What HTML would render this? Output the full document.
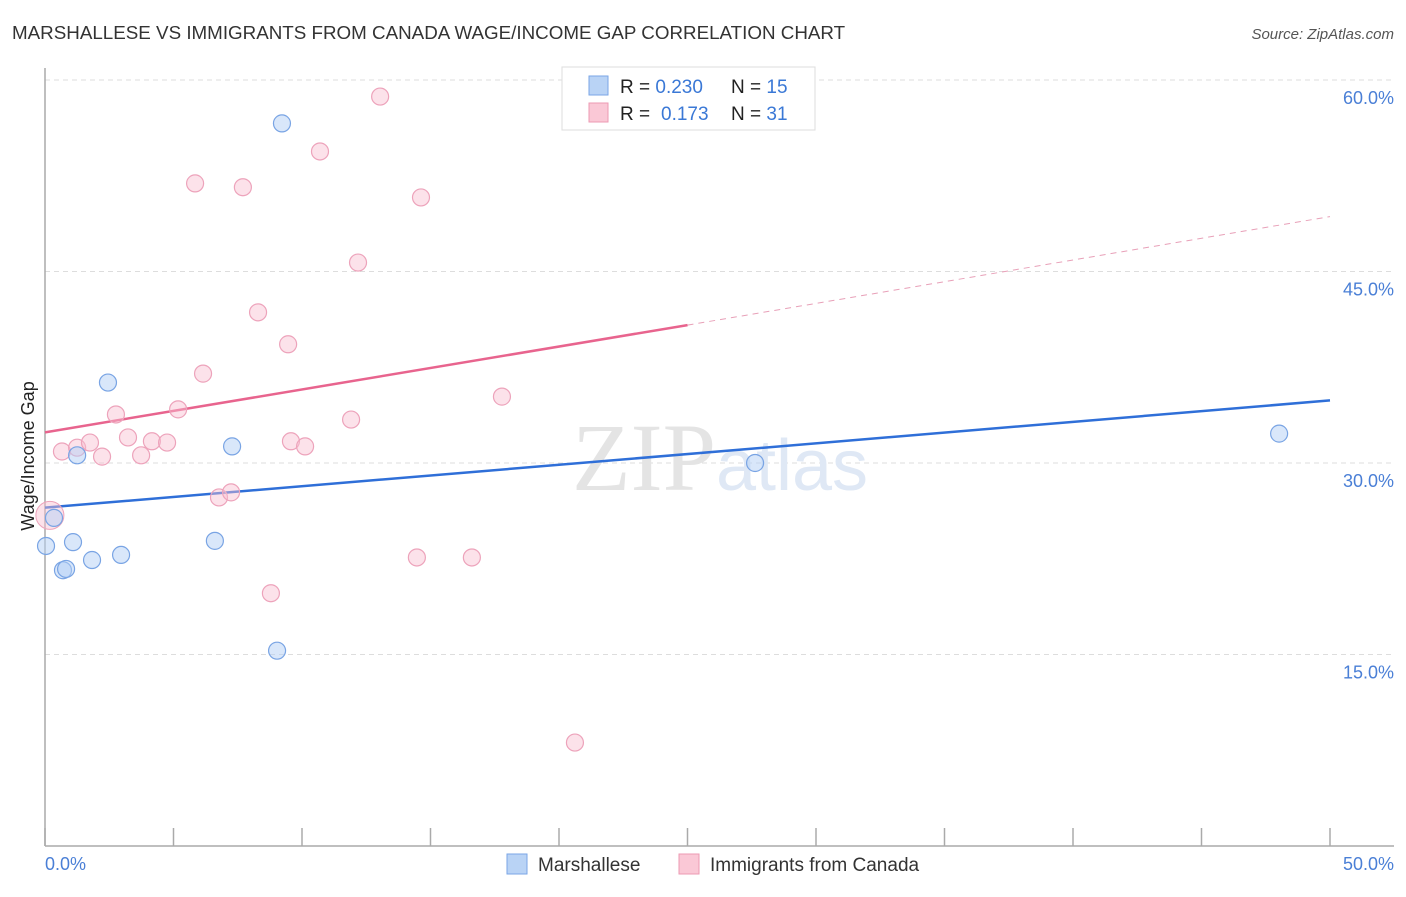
<!DOCTYPE html>
<html><head><meta charset="utf-8"><style>
body{margin:0;background:#fff;font-family:"Liberation Sans",sans-serif}
</style></head><body>
<svg width="1406" height="892" xmlns="http://www.w3.org/2000/svg">
<text x="12" y="39" font-size="18.8" fill="#333">MARSHALLESE VS IMMIGRANTS FROM CANADA WAGE/INCOME GAP CORRELATION CHART</text>
<text x="1394" y="39" font-size="15" fill="#555" text-anchor="end" font-style="italic">Source: ZipAtlas.com</text>
<g id="grid"></g>
<text x="720" y="490" font-size="96" fill="#e4e4e4" text-anchor="middle" font-family="Liberation Serif">ZIP<tspan fill="#dfe8f5" font-family="Liberation Sans" font-size="72">atlas</tspan></text>
<line x1="45" y1="68" x2="45" y2="846" stroke="#aaa" stroke-width="1.5"/>
<line x1="45" y1="846" x2="1394" y2="846" stroke="#aaa" stroke-width="1.5"/>
<g id="ticks"></g>
<g id="lines"></g>
<g id="pts"></g>
<text transform="translate(34,456) rotate(-90)" font-size="18" fill="#222" text-anchor="middle">Wage/Income Gap</text>
<text x="45" y="870" font-size="18" fill="#4a7fd6">0.0%</text>
<text x="1394" y="870" font-size="18" fill="#4a7fd6" text-anchor="end">50.0%</text>
<g>
<rect x="562" y="67" width="253" height="63" fill="#fff" stroke="#ddd"/>
<rect x="589" y="76" width="19" height="19" fill="#b9d3f5" stroke="#7aa6e6"/>
<rect x="589" y="103" width="19" height="19" fill="#fac8d6" stroke="#ec9ab3"/>
<text x="620" y="93" font-size="19" fill="#222">R = <tspan fill="#3a78d6">0.230</tspan><tspan x="731">N = </tspan><tspan fill="#3a78d6">15</tspan></text>
<text x="620" y="120" font-size="19" fill="#222">R = <tspan x="661" fill="#3a78d6">0.173</tspan><tspan x="731">N = </tspan><tspan fill="#3a78d6">31</tspan></text>
</g>
<g>
<rect x="507" y="854" width="20" height="20" fill="#b9d3f5" stroke="#7aa6e6"/>
<text x="538" y="871" font-size="19" fill="#333">Marshallese</text>
<rect x="679" y="854" width="20" height="20" fill="#fac8d6" stroke="#ec9ab3"/>
<text x="710" y="871" font-size="19" fill="#333">Immigrants from Canada</text>
</g>
</svg>
<script>
const yTicks=[15,30,45,60];
const yTickLabels=["15.0%","30.0%","45.0%","60.0%"];
const xTicks=[0,5,10,15,20,25,30,35,40,45,50];
const blueX=[0.04,0.35,0.7,0.82,1.09,1.83,1.25,2.45,2.96,6.61,7.28,9.03,9.22,27.63,48.02];
const blueY=[23.5,25.7,21.6,21.7,23.8,22.4,30.6,36.3,22.8,23.9,31.3,15.3,56.6,30.0,32.3];
const pinkX=[0.66,1.25,1.75,2.22,2.76,3.23,3.74,4.16,4.75,5.18,5.84,6.15,6.77,7.24,7.70,8.29,8.79,9.46,9.57,10.12,10.70,11.91,12.18,13.04,14.47,14.63,16.61,17.78,20.62];
const pinkY=[30.9,31.2,31.6,30.5,33.8,32.0,30.6,31.7,31.6,34.2,51.9,37.0,27.3,27.7,51.6,41.8,19.8,39.3,31.7,31.3,54.4,33.4,45.7,58.7,22.6,50.8,22.6,35.2,8.1];
const bigPink=[0.19,25.9];
const blueTrend=[[0,26.5],[50,34.9]];
const pinkTrend=[[0,32.4],[25,40.8],[50,49.3]];
const X=v=>45+v*25.7, Y=v=>846-v*12.767;
const NS="http://www.w3.org/2000/svg";
function mk(tag,attrs,parent){const e=document.createElementNS(NS,tag);for(const k in attrs)e.setAttribute(k,attrs[k]);document.getElementById(parent).appendChild(e);return e;}
yTicks.forEach((t,i)=>{
 const l=mk('line',{x1:45,x2:1394,y1:Y(t),y2:Y(t),stroke:'#ddd','stroke-dasharray':'5,4'},'grid');
 
 
 const tx=mk('text',{x:1394,y:Y(t)+24,'font-size':18,fill:'#4a7fd6','text-anchor':'end'},'grid');
 tx.textContent=yTickLabels[i];
 
 
});
xTicks.forEach(t=>{
 const l=mk('line',{x1:X(t),x2:X(t),y1:828,y2:846,stroke:'#aaa','stroke-width':1.5},'ticks');
 
 
});
let b=mk('line',{x1:X(blueTrend[0][0]),y1:Y(blueTrend[0][1]),x2:X(blueTrend[1][0]),y2:Y(blueTrend[1][1]),stroke:'#2f6fd8','stroke-width':2.5},'lines');


let p=mk('line',{x1:X(pinkTrend[0][0]),y1:Y(pinkTrend[0][1]),x2:X(pinkTrend[1][0]),y2:Y(pinkTrend[1][1]),stroke:'#e8648e','stroke-width':2.5},'lines');


let pd=mk('line',{x1:X(pinkTrend[1][0]),y1:Y(pinkTrend[1][1]),x2:X(pinkTrend[2][0]),y2:Y(pinkTrend[2][1]),stroke:'#e8a0b8','stroke-width':1,'stroke-dasharray':'6,5'},'lines');


let bp=mk('circle',{cx:X(bigPink[0]),cy:Y(bigPink[1]),r:14,fill:'rgba(248,190,208,0.45)',stroke:'#eda3bb'},'pts');


pinkX.forEach((x,i)=>{
 const c=mk('circle',{cx:X(x),cy:Y(pinkY[i]),r:8.5,fill:'rgba(248,190,208,0.45)',stroke:'#eda3bb','stroke-width':1.2},'pts');
 
 
});
blueX.forEach((x,i)=>{
 const c=mk('circle',{cx:X(x),cy:Y(blueY[i]),r:8.5,fill:'rgba(180,208,245,0.5)',stroke:'#79a4e4','stroke-width':1.2},'pts');
 
 
});
</script>
</body></html>
